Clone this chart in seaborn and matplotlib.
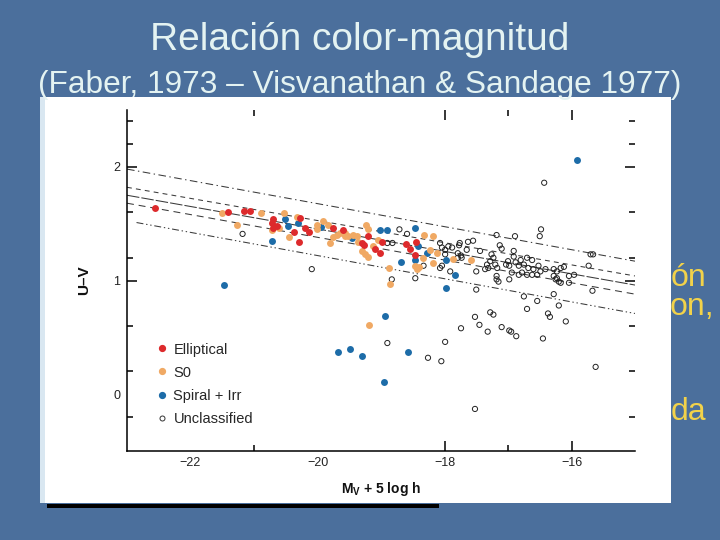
import matplotlib
matplotlib.use("Agg")
import matplotlib.pyplot as plt
from matplotlib.patches import Rectangle
from matplotlib.lines import Line2D
import seaborn as sns
import pandas as pd

# ---------------- data ----------------
ell_x = [-22.56, -21.41, -21.15, -21.06, -20.70, -20.72, -20.64, -20.70, -20.37, -20.29,
         -20.28, -20.20, -20.14, -19.75, -19.60, -19.20, -19.30, -19.27, -18.99, -19.09,
         -19.02, -18.61, -18.55, -18.45, -18.46]
ell_y = [1.64, 1.60, 1.61, 1.61, 1.54, 1.51, 1.48, 1.46, 1.43, 1.34,
         1.55, 1.46, 1.43, 1.46, 1.44, 1.39, 1.33, 1.31, 1.34, 1.28,
         1.24, 1.32, 1.28, 1.34, 1.22]

s0_x = [-21.50, -21.26, -20.89, -20.53, -20.33, -20.71, -20.60, -20.45, -19.80, -20.01,
        -19.91, -19.83, -19.70, -19.57, -19.44, -19.65, -19.75, -19.38, -19.36, -19.23,
        -19.20, -19.30, -19.20, -19.12, -19.04, -18.88, -18.86, -18.33, -18.18, -18.23,
        -18.12, -18.18, -18.46, -18.44, -18.40, -17.86, -17.58, -19.19, -20.01, -19.57,
        -19.52, -19.25, -18.34]
s0_y = [1.59, 1.49, 1.59, 1.59, 1.56, 1.44, 1.46, 1.38, 1.33, 1.45,
        1.52, 1.49, 1.40, 1.39, 1.40, 1.42, 1.38, 1.39, 1.34, 1.49,
        1.45, 1.26, 1.21, 1.30, 1.36, 1.11, 0.97, 1.40, 1.39, 1.27,
        1.24, 1.15, 1.13, 1.10, 1.12, 1.19, 1.18, 0.61, 1.49, 1.42,
        1.39, 1.23, 1.20]

sp_x = [-21.47, -20.71, -20.51, -20.46, -20.30, -19.94, -19.46, -19.02, -18.91, -18.46,
        -18.41, -18.68, -18.28, -18.46, -17.98, -17.98, -17.83, -15.91, -18.93, -19.68,
        -19.49, -19.30, -18.57, -18.95]
sp_y = [0.96, 1.35, 1.54, 1.48, 1.51, 1.47, 1.37, 1.44, 1.44, 1.46,
        1.30, 1.16, 1.24, 1.18, 0.93, 1.18, 1.05, 2.06, 0.69, 0.37,
        0.40, 0.34, 0.37, 0.11]

unc_x = [-21.18, -20.09, -18.71, -18.59, -18.07, -18.04, -17.99, -17.99, -18.07, -18.83,
         -18.46, -18.33, -18.04, -18.90, -18.82, -16.43, -16.48, -16.50, -17.18, -16.89,
         -17.55, -17.63, -15.70, -15.66, -15.73, -15.67, -17.76, -17.77, -17.94, -17.88,
         -17.65, -17.79, -17.74, -17.44, -17.26, -17.13, -17.10, -16.91, -16.91, -17.23,
         -17.28, -17.33, -17.31, -17.36, -17.20, -17.17, -17.50, -17.18, -17.18, -17.15,
         -17.00, -17.03, -16.98, -16.88, -16.83, -16.80, -16.75, -16.70, -16.62, -16.68,
         -16.60, -16.52, -16.49, -16.78, -16.83, -16.94, -16.70, -16.62, -16.54, -16.98,
         -16.41, -16.28, -16.23, -16.17, -16.12, -16.28, -16.23, -16.20, -16.25, -16.17,
         -16.04, -15.96, -16.04, -17.50, -16.75, -16.54, -16.28, -16.20, -16.70, -17.28,
         -17.23, -17.52, -16.37, -16.34, -16.09, -17.45, -17.74, -17.32, -17.10, -16.98,
         -16.95, -16.87, -16.45, -17.99, -18.05, -17.52, -15.62, -18.90, -18.26, -17.91,
         -17.79, -17.73]
unc_y = [1.41, 1.10, 1.45, 1.41, 1.33, 1.29, 1.23, 1.27, 1.11, 1.01,
         1.02, 1.13, 1.13, 1.33, 1.33, 1.86, 1.45, 1.39, 1.40, 1.39,
         1.35, 1.34, 1.23, 1.23, 1.13, 0.91, 1.33, 1.31, 1.30, 1.29,
         1.27, 1.24, 1.22, 1.26, 1.23, 1.31, 1.28, 1.26, 1.21, 1.20,
         1.17, 1.14, 1.11, 1.10, 1.14, 1.11, 1.08, 1.04, 1.01, 0.99,
         1.17, 1.14, 1.13, 1.16, 1.13, 1.18, 1.14, 1.20, 1.18, 1.11,
         1.10, 1.13, 1.08, 1.07, 1.05, 1.07, 1.05, 1.05, 1.05, 1.01,
         1.10, 1.10, 1.08, 1.11, 1.12, 1.04, 1.02, 0.99, 1.01, 0.98,
         1.04, 1.05, 0.98, 0.92, 0.86, 0.82, 0.88, 0.78, 0.75, 0.72,
         0.70, 0.68, 0.71, 0.68, 0.64, 0.61, 0.58, 0.55, 0.59, 0.56,
         0.55, 0.51, 0.49, 0.46, 0.29, -0.13, 0.24, 0.45, 0.32, 1.08,
         1.20, 1.20]

# relation lines (end points)
line_x = [[-23.0, -15.0], [-23.0, -15.0], [-23.0, -15.0], [-23.0, -15.0], [-22.85, -15.0]]
line_y = [[1.98, 1.17], [1.82, 1.04], [1.75, 0.96], [1.68, 0.88], [1.51, 0.71]]

legend_labels = ["Elliptical", "S0", "Spiral + Irr", "Unclassified"]
xtick_vals = [-22, -20, -18, -16]
ytick_vals = [0, 1, 2]

title1 = "Relación color-magnitud"
title2 = "(Faber, 1973 – Visvanathan & Sandage 1977)"
side_text = ["ón", "on,", "da"]

# ---------------- style ----------------
sns.set_style("white")
plt.rcParams["font.family"] = ["Liberation Sans", "DejaVu Sans"]
plt.rcParams["lines.scale_dashes"] = False

RED = "#dd2a2c"
ORANGE = "#f0a964"
BLUE = "#1d6ca8"
BG = "#4b6f9c"

fig = plt.figure(figsize=(7.2, 5.4), dpi=100)
fig.patch.set_facecolor(BG)

W, H = 720.0, 540.0

# slide titles
fig.text(360 / W, 1 - 50 / H, title1, ha="center", va="baseline",
         fontsize=28, color="#e4f3f2")
fig.text(360 / W, 1 - 93 / H, title2, ha="center", va="baseline",
         fontsize=22.8, color="#e4f3f2")

# yellow text fragments partly hidden behind the figure panel
for txt, xr, yb in zip(side_text, [706, 714, 706], [286, 315, 420]):
    fig.text(xr / W, 1 - yb / H, txt, ha="right", va="baseline",
             fontsize=23, color="#f2d24a", zorder=-3)

# white figure panel + light strip + black bar
fig.patches.append(Rectangle((40 / W, 1 - 503 / H), 631 / W, 406 / H,
                             transform=fig.transFigure, facecolor="white",
                             edgecolor="none", zorder=-2))
fig.patches.append(Rectangle((40 / W, 1 - 503 / H), 5 / W, 406 / H,
                             transform=fig.transFigure, facecolor="#d9e7f1",
                             edgecolor="none", zorder=-1.5))
fig.patches.append(Rectangle((47 / W, 1 - 508 / H), 392 / W, 4.5 / H,
                             transform=fig.transFigure, facecolor="black",
                             edgecolor="none", zorder=-1.5))

ax = fig.add_axes([127 / W, 1 - 451 / H, 508 / W, 341 / H])
ax.set_facecolor("white")

# relation lines
styles = [(0, (5.5, 2.5, 1, 2.5)), (0, (3.5, 3)), (0, (9, 1.5)), (0, (5, 3.5)),
          (0, (5, 2, 1, 2, 1, 2))]
for lx, ly, ls in zip(line_x, line_y, styles):
    sns.lineplot(x=lx, y=ly, ax=ax, color="#3a3a3a", linewidth=0.75,
                 linestyle=ls, zorder=1)

# points
sns.scatterplot(x=unc_x, y=unc_y, ax=ax, s=14, facecolor="none",
                edgecolor="#222222", linewidth=0.7, zorder=2)
sns.scatterplot(x=sp_x, y=sp_y, ax=ax, s=25, color=BLUE, linewidth=0, zorder=3)
sns.scatterplot(x=s0_x, y=s0_y, ax=ax, s=25, color=ORANGE, linewidth=0, zorder=4)
sns.scatterplot(x=ell_x, y=ell_y, ax=ax, s=25, color=RED, linewidth=0, zorder=5)

ax.set_xlim(-23, -15)
ax.set_ylim(-0.5, 2.5)

# ticks
ax.set_xticks(xtick_vals)
ax.set_xticks([-21, -17], minor=True)
ax.set_yticks(ytick_vals)
ax.set_yticks([2.4, 2.2, 1.6, 1.2, 0.6, 0.2, -0.2], minor=True)
ax.tick_params(which="both", direction="in", top=True, right=True,
               bottom=True, left=True, width=1.1, color="black",
               labelcolor="#222222", labelsize=9)
ax.tick_params(which="major", length=7)
ax.tick_params(which="minor", length=4.5)
ax.tick_params(axis="x", pad=4)
ax.tick_params(axis="y", pad=5)
for t in ax.xaxis.get_major_ticks()[:2]:
    t.tick1line.set_visible(False)
    t.tick2line.set_visible(False)
for t in ax.yaxis.get_major_ticks()[:1]:
    t.tick1line.set_visible(False)
    t.tick2line.set_visible(False)

for side in ["top", "right"]:
    ax.spines[side].set_visible(False)
for side in ["left", "bottom"]:
    ax.spines[side].set_linewidth(1.1)
    ax.spines[side].set_color("black")

ax.set_xlabel(r"M$_\mathregular{V}$ + 5 log h", fontsize=10, fontweight="bold",
              labelpad=8, color="#111111")
ax.set_ylabel("U–V", fontsize=11, fontweight="bold", labelpad=16, color="#111111")

# legend
handles = [
    Line2D([], [], marker="o", linestyle="", markersize=4.2, markerfacecolor=RED, markeredgecolor=RED),
    Line2D([], [], marker="o", linestyle="", markersize=4.2, markerfacecolor=ORANGE, markeredgecolor=ORANGE),
    Line2D([], [], marker="o", linestyle="", markersize=4.2, markerfacecolor=BLUE, markeredgecolor=BLUE),
    Line2D([], [], marker="o", linestyle="", markersize=3.6, markerfacecolor="none",
           markeredgecolor="#333333", markeredgewidth=0.7),
]
ax.legend(handles, legend_labels, loc="upper left", bbox_to_anchor=(0.054, 0.318),
          frameon=False, fontsize=10.5, handlelength=1.0, handletextpad=0.3,
          labelspacing=0.62, borderpad=0, borderaxespad=0)

fig.savefig("out.png", dpi=100, facecolor=fig.get_facecolor())
